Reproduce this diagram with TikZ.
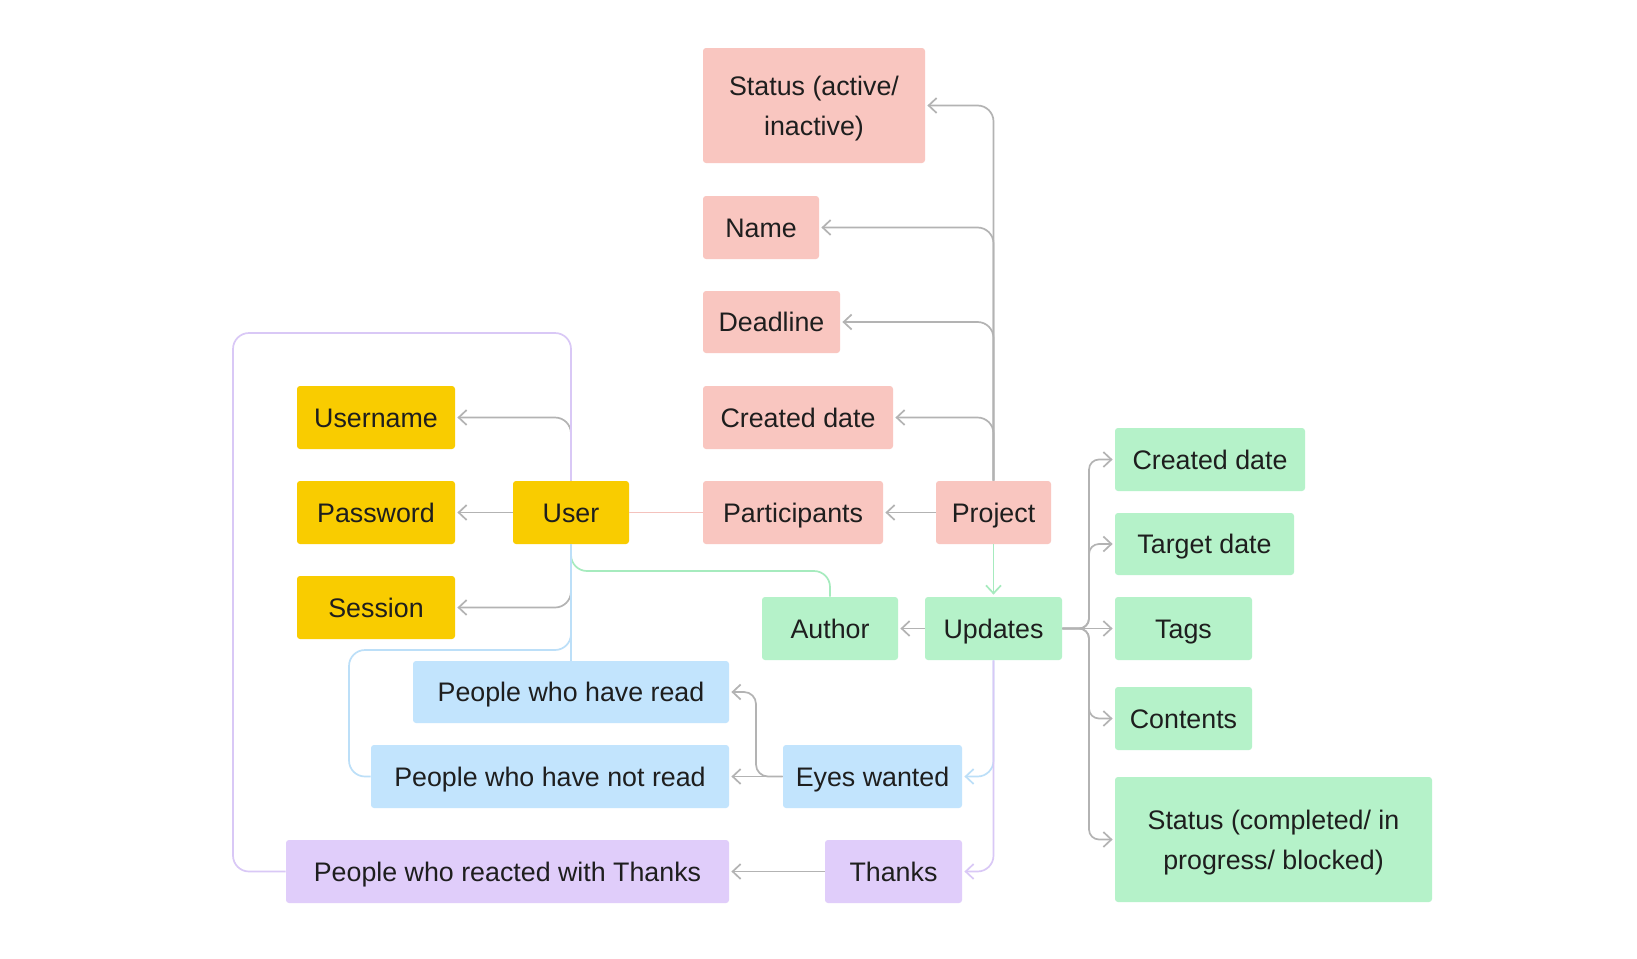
\documentclass[tikz,border=0pt]{standalone}
\usepackage{fontspec}
\setmainfont{Liberation Sans}
\usetikzlibrary{arrows.meta}
\definecolor{yel}{HTML}{F9CC00}
\definecolor{pnk}{HTML}{F9C6C0}
\definecolor{grn}{HTML}{B5F2C9}
\definecolor{blu}{HTML}{C2E4FD}
\definecolor{pur}{HTML}{E0CDFA}
\definecolor{gry}{HTML}{B3B3B3}
\definecolor{lpur}{HTML}{D9C8F6}
\definecolor{lblu}{HTML}{BCDFF8}
\definecolor{lgrn}{HTML}{A6EBBE}
\definecolor{lpnk}{HTML}{F4C2BD}
\definecolor{txt}{HTML}{1E1E1E}
\begin{document}
\begin{tikzpicture}[x=0.5pt,y=-0.5pt,
  card/.style={rectangle, rounded corners=1.5pt, inner sep=0pt, text=txt,
    font=\fontsize{13.4}{20}\selectfont, align=center,
    text height=9.6pt, text depth=0pt},
  twoline/.style={text height=29.6pt, text depth=0pt},
  sz/.style 2 args={minimum width={#1*0.5pt}, minimum height={#2*0.5pt}},
  yb/.style={card, fill=yel},
  pb/.style={card, fill=pnk},
  gb/.style={card, fill=grn},
  bb/.style={card, fill=blu},
  ub/.style={card, fill=pur},
  conn/.style={line width=0.85pt, rounded corners=8pt, line join=round},
  arr/.style={-{Straight Barb[length=4pt,width=7.5pt]}, shorten >=1pt},
  gline/.style={conn, draw=gry},
]
\useasboundingbox[fill=white] (0,0) rectangle (1637,958);

% Project group
\node[pb, twoline, sz={222}{115}] (statusP) at (814,105.5) {Status (active/\\inactive)};
\node[pb, sz={116}{63}] (name) at (761,227.5) {Name};
\node[pb, sz={137}{62}] (deadline) at (771.5,322) {Deadline};
\node[pb, sz={190}{63}] (createdP) at (798,417.5) {Created date};
\node[pb, sz={180}{63}] (participants) at (793,512.5) {Participants};
\node[pb, sz={115}{63}] (project) at (993.5,512.5) {Project};

% User group
\node[yb, sz={116}{63}] (user) at (571,512.5) {User};
\node[yb, sz={158}{63}] (username) at (376,417.5) {Username};
\node[yb, sz={158}{63}] (password) at (376,512.5) {Password};
\node[yb, sz={158}{63}] (session) at (376,607.5) {Session};

% Updates group
\node[gb, sz={136}{63}] (author) at (830,628.5) {Author};
\node[gb, sz={137}{63}] (updates) at (993.5,628.5) {Updates};
\node[gb, sz={190}{63}] (createdG) at (1210,459.5) {Created date};
\node[gb, sz={179}{62}] (target) at (1204.5,544) {Target date};
\node[gb, sz={137}{63}] (tags) at (1183.5,628.5) {Tags};
\node[gb, sz={137}{63}] (contents) at (1183.5,718.5) {Contents};
\node[gb, twoline, sz={317}{125}] (statusG) at (1273.5,839.5) {Status (completed/ in\\progress/ blocked)};

% Eyes / Thanks group
\node[bb, sz={316}{62}] (read) at (571,692) {People who have read};
\node[bb, sz={358}{63}] (notread) at (550,776.5) {People who have not read};
\node[bb, sz={179}{63}] (eyes) at (872.5,776.5) {Eyes wanted};
\node[ub, sz={443}{63}] (reacted) at (507.5,871.5) {People who reacted with Thanks};
\node[ub, sz={137}{63}] (thanks) at (893.5,871.5) {Thanks};

% helper coordinates
\coordinate (ubr) at (1089,628.5);
\coordinate (eb) at (756,776.5);
\coordinate (ag) at (571,571);
\coordinate (bl) at (349,650);
\coordinate (loopTL) at (233,333);

% gray connectors
\draw[gline, arr] (project.north) |- (statusP.east);
\draw[gline, arr] (project.north) |- (name.east);
\draw[gline, arr] (project.north) |- (deadline.east);
\draw[gline, arr] (project.north) |- (createdP.east);
\draw[gline, arr] (project.west) -- (participants.east);
\draw[gline, arr] (user.north) |- (username.east);
\draw[gline, arr] (user.west) -- (password.east);
\draw[gline, arr] (user.south) |- (session.east);
\draw[gline, arr] (updates.west) -- (author.east);
\draw[gline, arr, rounded corners=5pt] (updates.east) -- (ubr) |- (createdG.west);
\draw[gline, arr, rounded corners=5pt] (updates.east) -- (ubr) |- (target.west);
\draw[gline, arr] (updates.east) -- (tags.west);
\draw[gline, arr, rounded corners=5pt] (updates.east) -- (ubr) |- (contents.west);
\draw[gline, arr, rounded corners=5pt] (updates.east) -- (ubr) |- (statusG.west);
\draw[gline, arr] (eyes.west) -- (notread.east);
\draw[gline, arr, rounded corners=6pt] (eyes.west) -- (eb) |- (read.east);
\draw[gline, arr] (thanks.west) -- (reacted.east);

% colored connectors
\draw[conn, draw=lpnk] (user.east) -- (participants.west);
\draw[conn, draw=lgrn, arr] (project.south) -- (updates.north);
\draw[conn, draw=lgrn] (author.north) |- (ag) -- (user.south);
\draw[conn, draw=lblu] (user.south) -- (read.north);
\draw[conn, draw=lblu] (user.south) |- (bl) |- (notread.west);
\draw[conn, draw=lpur] (reacted.west) -| (loopTL) -| (user.north);
\draw[conn, draw=lblu, arr] (updates.south) |- (eyes.east);
\draw[conn, draw=lpur, arr] (updates.south) |- (thanks.east);
\end{tikzpicture}
\end{document}
